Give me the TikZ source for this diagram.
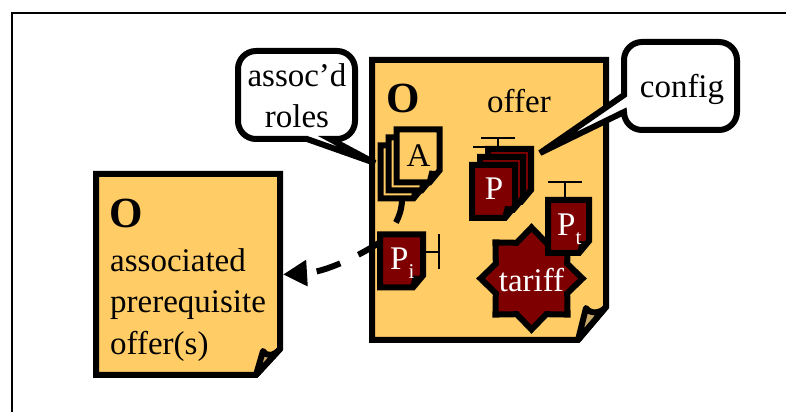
\documentclass[tikz,border=0pt]{standalone}
\usepackage{fontspec}
\setmainfont{Liberation Serif}
\usetikzlibrary{arrows.meta,shapes.geometric}
\definecolor{pagefill}{HTML}{FFCC66}
\definecolor{darkfill}{HTML}{7F0000}
\definecolor{foldfill}{HTML}{C9A866}
\tikzset{
  pagebox/.style={rectangle,inner sep=0pt,outer sep=0pt},
  minipage/.style={pagebox,minimum width=43bp,minimum height=53bp},
  pageline/.style={draw,line width=6bp},
  txt/.style={inner sep=0pt,anchor=base,font=\fontsize{33bp}{36bp}\selectfont},
  boldtxt/.style={inner sep=0pt,anchor=base,font=\fontsize{43bp}{46bp}\selectfont\bfseries},
  balloon/.style={draw,line width=6bp,fill=white},
  foldline/.style={draw,line width=6bp,fill=foldfill,line join=round},
  tbar/.style={line width=1.5bp},
  dashlink/.style={line width=6bp,dash pattern=on 25bp off 20bp},
}
\newcommand{\pageoutline}[4]{\path [pageline,fill=#2] (#1.north west) -- (#1.north east) -- ([yshift=#4]#1.south east) -- ([xshift=-#3]#1.south east) -- (#1.south west) -- cycle;}
\newcommand{\minifold}[1]{\fill (#1) ++(11.5bp,-14.5bp) -- ++(-3bp,-12bp) -- ++(13bp,11bp) -- cycle;}
\newcommand{\subtxt}[1]{\raisebox{-9bp}{\fontsize{21bp}{24bp}\selectfont #1}}
\begin{document}
\begin{tikzpicture}[>={Triangle[length=24bp,width=25bp]}]
\useasboundingbox (0bp,0bp) rectangle (786bp,412bp);
\draw [line width=2bp] (12bp,0bp) -- (12bp,399bp) -- (786bp,399bp);
%% the two offers
\node (prereq) at (188bp,137.5bp) [pagebox,minimum width=184bp,minimum height=201bp] {};
\node (offer) at (489bp,212bp) [pagebox,minimum width=234bp,minimum height=280bp] {};
\pageoutline{prereq}{pagefill}{24bp}{26bp}
\pageoutline{offer}{pagefill}{28bp}{33bp}
\draw [foldline] (263bp,61bp) .. controls (266bp,55bp) and (274bp,56bp) .. (280bp,63bp) -- (256bp,37bp) -- cycle;
\draw [foldline] (586bp,104bp) .. controls (590bp,98bp) and (600bp,98bp) .. (606bp,105bp) -- (578bp,72bp) -- cycle;
\node (prereqO) at (126.5bp,184bp) [boldtxt] {O};
\node (prereq1) at (110bp,140bp) [txt,anchor=base west] {associated};
\node (prereq2) at (110bp,99bp) [txt,anchor=base west] {prerequisite};
\node (prereq3) at (110bp,57bp) [txt,anchor=base west] {offer(s)};
\node (offerO) at (403bp,299bp) [boldtxt] {O};
\node (offertxt) at (519bp,299bp) [txt] {offer};
%% stack of roles
\foreach \n/\x/\y in {a3/402/240,a2/410/248,a1/418/256} {
  \node (\n) at (\x bp,\y bp) [minipage] {};
  \pageoutline{\n}{pagefill}{10bp}{12bp}
  \minifold{\n.center}
}
\node (atxt) at (418.5bp,245bp) [txt] {A};
%% stack of configured products
\foreach \n/\x/\y in {p3/509.5/236.5,p2/501.5/228.5,p1/493.5/220.5} {
  \node (\n) at (\x bp,\y bp) [minipage] {};
  \pageoutline{\n}{darkfill}{10bp}{12bp}
  \minifold{\n.center}
}
\coordinate (p3bar) at (498bp,274bp);
\coordinate (p2bar) at (490bp,265bp);
\foreach \n in {p3,p2} {
  \draw [tbar] (\n bar) -- (\n bar |- \n.north);
  \draw [tbar] (\n bar) ++(-17bp,0bp) -- ++(34bp,0bp);
}
\node (p1txt) at (494bp,212bp) [txt,text=white] {P};
%% tariff and the priced products
\node (tariff) at (531.5bp,133.5bp) [draw,line width=6bp,fill=darkfill,star,star points=8,star point ratio=1.32,minimum size=102bp,inner sep=0pt] {};
\node (tarifftxt) at (531.5bp,120bp) [txt,text=white] {tariff};
\node (pi) at (401.5bp,151bp) [minipage] {};
\pageoutline{pi}{darkfill}{10bp}{12bp}
\minifold{pi.center}
\node (pt) at (568.5bp,185.5bp) [minipage,minimum width=41bp] {};
\pageoutline{pt}{darkfill}{10bp}{12bp}
\minifold{pt.center}
\node (pitxt) at (390bp,142bp) [txt,text=white,anchor=base west] {P\subtxt{i}};
\node (pttxt) at (557bp,176bp) [txt,text=white,anchor=base west] {P\subtxt{t}};
\coordinate (pibar) at (439bp,160bp);
\coordinate (ptbar) at (565bp,230bp);
\draw [tbar] (pi.east |- pibar) -- (pibar);
\draw [tbar] (pibar) ++(0bp,17.5bp) -- ++(0bp,-35bp);
\draw [tbar] (ptbar) -- (ptbar |- pt.north);
\draw [tbar] (ptbar) ++(-17bp,0bp) -- ++(34bp,0bp);
%% links
\draw [dashlink] (a3.south) to [out=-90,in=60] (pi.115);
\draw [dashlink,->] (pi.139) .. controls (355bp,154bp) and (325bp,140bp) .. ([xshift=3bp]prereq.east);
%% balloons
\coordinate (rolestip) at (375bp,249bp);
\coordinate (configtip) at (540bp,259bp);
\draw [balloon] (307bp,273bp) -- (256bp,273bp) arc [start angle=270,end angle=180,radius=18bp] -- (238bp,343bp) arc [start angle=180,end angle=90,radius=18bp] -- (337bp,361bp) arc [start angle=90,end angle=0,radius=18bp] -- (355bp,291bp) arc [start angle=0,end angle=-90,radius=18bp] -- (330bp,273bp) -- (rolestip) -- cycle;
\draw [balloon] (624bp,317bp) -- (624bp,352bp) arc [start angle=180,end angle=90,radius=18bp] -- (719bp,370bp) arc [start angle=90,end angle=0,radius=18bp] -- (737bp,300bp) arc [start angle=0,end angle=-90,radius=18bp] -- (642bp,282bp) arc [start angle=-90,end angle=-180,radius=18bp] -- (configtip) -- cycle;
\node (rolestxt1) at (297bp,325bp) [txt] {assoc’d};
\node (rolestxt2) at (297bp,284bp) [txt] {roles};
\node (configtxt) at (682bp,314bp) [txt] {config};
%
\end{tikzpicture}
\end{document}
